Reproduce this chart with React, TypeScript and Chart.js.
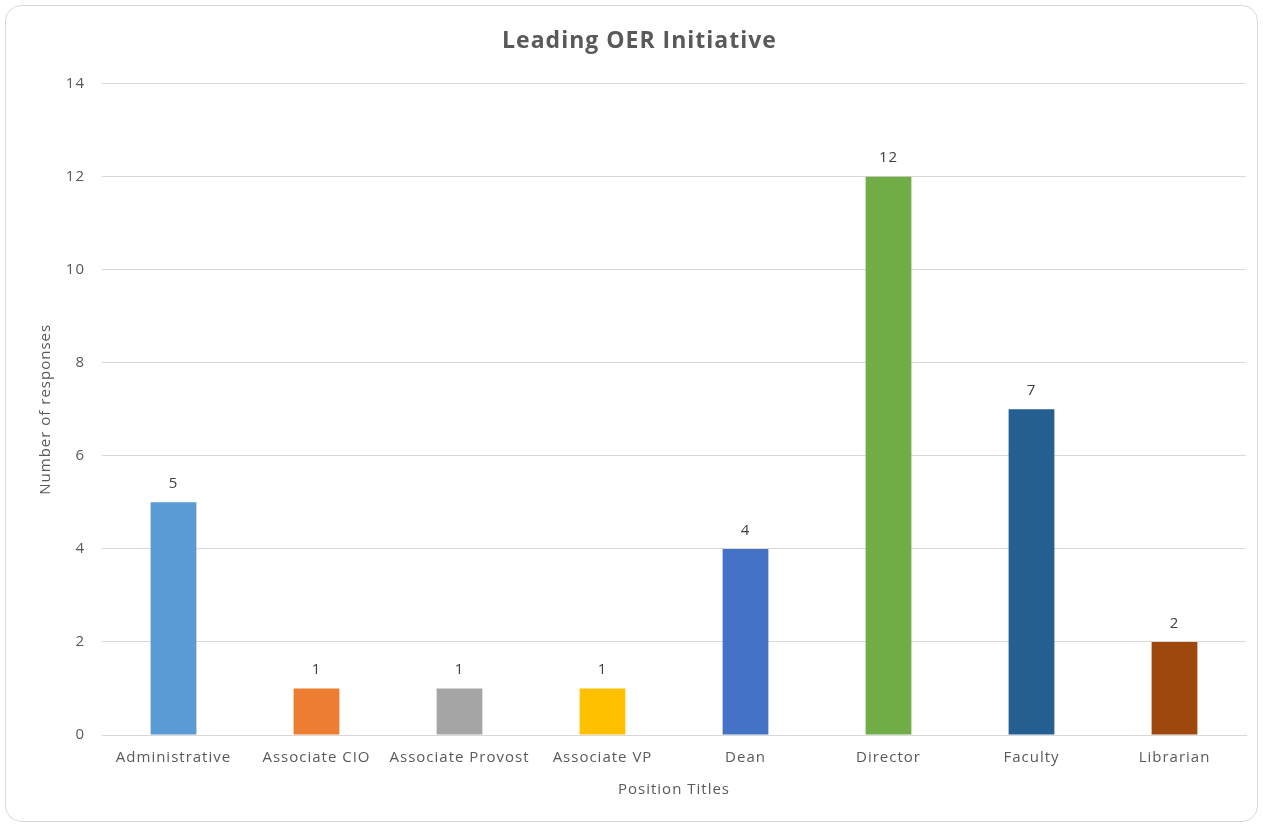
import React, { useEffect, useRef } from "react";
import { Chart, registerables } from "chart.js";

Chart.register(...registerables);

const categories = ["Administrative", "Associate CIO", "Associate Provost", "Associate VP", "Dean", "Director", "Faculty", "Librarian"];
const responses = [5, 1, 1, 1, 4, 12, 7, 2];
const barColors = ["#5B9BD5", "#ED7D31", "#A5A5A5", "#FFC000", "#4472C4", "#70AD47", "#255E91", "#9E480E"];
const yTicks = [0, 2, 4, 6, 8, 10, 12, 14];

const FONT = "'Open Sans', 'Liberation Sans', sans-serif";

const spacing = {
  id: "spacing",
  beforeLayout(chart: any) {
    chart.ctx.letterSpacing = "1px";
  },
  beforeDraw(chart: any) {
    chart.ctx.letterSpacing = "1px";
  },
};

const dataLabels = {
  id: "dataLabels",
  afterDatasetsDraw(chart: any) {
    const ctx = chart.ctx;
    const meta = chart.getDatasetMeta(0);
    ctx.save();
    ctx.font = `15px ${FONT}`;
    ctx.fillStyle = "#404040";
    ctx.textAlign = "center";
    ctx.textBaseline = "bottom";
    meta.data.forEach((bar: any, i: number) => {
      ctx.fillText(String(chart.data.datasets[0].data[i]), bar.x, bar.y - 11);
    });
    ctx.restore();
  },
};

export default function App() {
  const ref = useRef<HTMLCanvasElement>(null);
  useEffect(() => {
    if (!ref.current) return;
    const chart = new Chart(ref.current, {
      type: "bar",
      data: {
        labels: categories,
        datasets: [
          {
            data: responses,
            backgroundColor: barColors,
            categoryPercentage: 1,
            barPercentage: 0.32,
          },
        ],
      },
      options: {
        responsive: false,
        animation: false,
        layout: { padding: { left: 33, right: 17, top: 0, bottom: 22 } },
        plugins: {
          legend: { display: false },
          tooltip: { enabled: false },
          title: {
            display: true,
            text: "Leading OER Initiative",
            color: "#595959",
            font: { family: FONT, size: 23, weight: "bold" },
            padding: { top: 28, bottom: 28 },
          },
        },
        scales: {
          x: {
            grid: { display: false, drawTicks: false },
            border: { display: true, color: "#d9d9d9" },
            ticks: { color: "#595959", font: { family: FONT, size: 15 }, padding: 14, maxRotation: 0 },
            title: { display: true, text: "Position Titles", color: "#595959", font: { family: FONT, size: 15 } },
            afterFit: (s: any) => { s.height = 68; },
          },
          y: {
            min: 0,
            max: 14,
            afterBuildTicks: (s: any) => { s.ticks = yTicks.map((v) => ({ value: v })); },
            grid: { color: "#d9d9d9", drawTicks: false },
            border: { display: false },
            ticks: { color: "#595959", font: { family: FONT, size: 15 }, padding: 17 },
            title: { display: true, text: "Number of responses", color: "#595959", font: { family: FONT, size: 15 } },
            afterFit: (s: any) => { s.width = 69; },
          },
        },
      },
      plugins: [spacing, dataLabels],
    });
    return () => chart.destroy();
  }, []);

  return (
    <div style={{ position: "fixed", left: 0, top: 0, width: 1263, height: 825, background: "#fff" }}>
      <div
        style={{
          position: "absolute",
          left: 5,
          top: 5,
          width: 1251,
          height: 815,
          border: "1px solid #d9d9d9",
          borderRadius: 16,
        }}
      />
      <canvas ref={ref} width={1263} height={825} style={{ position: "absolute", left: 0, top: 0 }} />
    </div>
  );
}
